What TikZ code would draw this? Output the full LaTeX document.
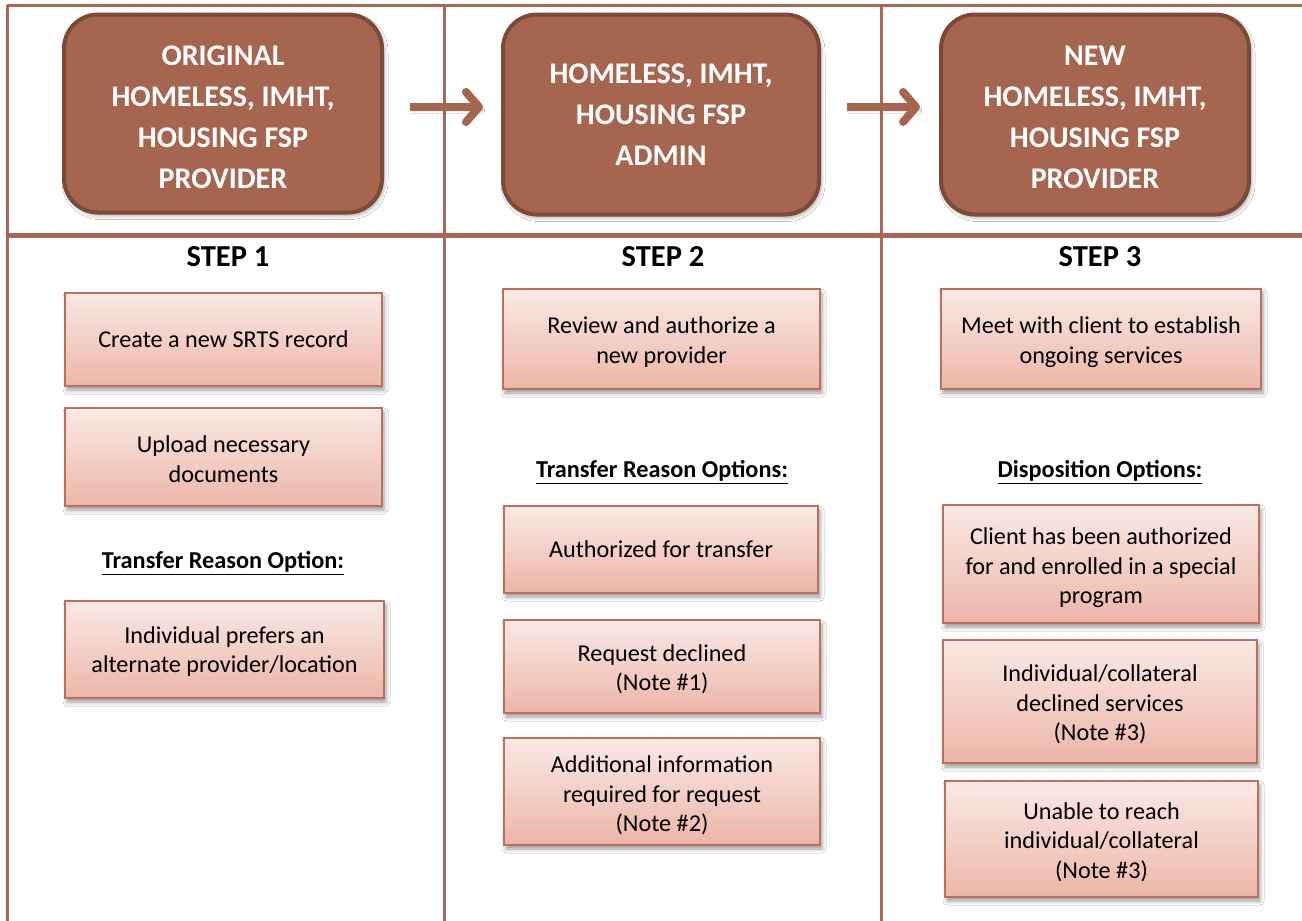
\documentclass[tikz,border=0pt]{standalone}
\usepackage{fontspec}
\setmainfont{Carlito}
\usetikzlibrary{arrows.meta,shadows.blur}
\definecolor{hdrfill}{RGB}{166,101,79}
\definecolor{hdrborder}{RGB}{123,74,56}
\definecolor{gridcol}{RGB}{168,104,85}
\definecolor{pinktop}{RGB}{250,233,229}
\definecolor{pinkbot}{RGB}{236,182,168}
\definecolor{pinkborder}{RGB}{186,112,92}
\tikzset{
  hdr/.style={rounded corners=34pt, fill=hdrfill, draw=hdrborder, line width=4pt,
    blur shadow={shadow xshift=2pt, shadow yshift=-3pt, shadow blur radius=4pt, shadow opacity=35}},
  hdrtext/.style={text=white, font=\bfseries\fontsize{30}{41}\selectfont, align=center},
  pbox/.style={draw=pinkborder, line width=1.6pt, top color=pinktop, bottom color=pinkbot,
    font=\fontsize{24.2}{29.5}\selectfont, align=center, inner sep=0pt,
    blur shadow={shadow xshift=2pt, shadow yshift=-4pt, shadow blur radius=4pt, shadow opacity=40}},
  ptext/.style={font=\fontsize{24.2}{29.5}\selectfont, align=center, inner sep=0pt},
  steplabel/.style={font=\bfseries\fontsize{30.5}{34}\selectfont},
  optlabel/.style={font=\bfseries\fontsize{24.3}{28}\selectfont},
  gridline/.style={draw=gridcol},
  flowarrow/.style={draw=hdrfill, line width=8pt, -{Straight Barb[round, length=13pt, width=30pt]},
    blur shadow={shadow xshift=1pt, shadow yshift=-3pt, shadow blur radius=3pt, shadow opacity=30}}
}
\begin{document}
\begin{tikzpicture}[x=1pt,y=-1pt]
\useasboundingbox (0,0) rectangle (1302,921);
\fill[white] (0,0) rectangle (1302,921);
% table grid
\draw[gridline, line width=3pt] (7,5) -- (1302,5);
\draw[gridline, line width=3pt] (7,5) -- (7,921);
\draw[gridline, line width=3pt] (444.5,5) -- (444.5,921);
\draw[gridline, line width=3pt] (881.5,5) -- (881.5,921);
\draw[gridline, line width=5pt] (7,235.5) -- (1302,235.5);
% header boxes
\node[hdr, minimum width=318pt, minimum height=198pt] (h1) at (223,113.5) {};
\node[hdrtext] (h1t) at ([yshift=-4pt]h1.center) {ORIGINAL\\HOMELESS, IMHT,\\HOUSING FSP\\PROVIDER};
\node[hdr, minimum width=316pt, minimum height=200pt] (h2) at (661,114.5) {};
\node[hdrtext] (h2t) at (h2.center) {HOMELESS, IMHT,\\HOUSING FSP\\ADMIN};
\node[hdr, minimum width=308pt, minimum height=200pt] (h3) at (1095,114.5) {};
\node[hdrtext] (h3t) at ([yshift=-3pt]h3.center) {NEW\\HOMELESS, IMHT,\\HOUSING FSP\\PROVIDER};
% arrows
\draw[flowarrow] ([xshift=26pt]h1.east |- 0,107) -- ([xshift=-18pt]h2.west |- 0,107);
\draw[flowarrow] ([xshift=26pt]h2.east |- 0,107) -- ([xshift=-19pt]h3.west |- 0,107);
% step labels
\node[steplabel] (s1) at (228,257) {STEP 1};
\node[steplabel] (s2) at (663,257) {STEP 2};
\node[steplabel] (s3) at (1100,257) {STEP 3};
% step 1
\node[pbox, minimum width=317pt, minimum height=93pt] (a1) at (223.5,339.5) {Create a new SRTS record};
\node[pbox, minimum width=317pt, minimum height=98pt] (a2) at (223.5,457) {};
\node[ptext] (a2t) at ([yshift=-2pt]a2.center) {Upload necessary\\documents};
\node[optlabel] (o1) at (223,563) {\underline{Transfer Reason Option:}};
\node[pbox, minimum width=319pt, minimum height=97pt] (a3) at (224.5,649.5) {};
\node[ptext] (a3t) at ([yshift=-2pt]a3.center) {Individual prefers an\\alternate provider/location};
% step 2
\node[pbox, minimum width=317pt, minimum height=100pt] (b1) at (661.5,339) {};
\node[ptext] (b1t) at ([yshift=-3pt]b1.center) {Review and authorize a\\new provider};
\node[optlabel] (o2) at (662,472) {\underline{Transfer Reason Options:}};
\node[pbox, minimum width=314pt, minimum height=87pt] (b2) at (661,549.5) {Authorized for transfer};
\node[pbox, minimum width=316pt, minimum height=93pt] (b3) at (662,666.5) {};
\node[ptext] (b3t) at ([yshift=-3pt]b3.center) {Request declined\\(Note \#1)};
\node[pbox, minimum width=316pt, minimum height=107pt] (b4) at (662,791.5) {};
\node[ptext] (b4t) at ([yshift=-4pt]b4.center) {Additional information\\required for request\\(Note \#2)};
% step 3
\node[pbox, minimum width=320pt, minimum height=100pt] (c1) at (1101,339) {};
\node[ptext] (c1t) at ([yshift=-3pt]c1.center) {Meet with client to establish\\ongoing services};
\node[optlabel] (o3) at (1100,472) {\underline{Disposition Options:}};
\node[pbox, minimum width=316pt, minimum height=118pt] (c2) at (1101,564) {};
\node[ptext] (c2t) at ([yshift=-4pt]c2.center) {Client has been authorized\\for and enrolled in a special\\program};
\node[pbox, minimum width=314pt, minimum height=123pt] (c3) at (1100,701.5) {};
\node[ptext] (c3t) at ([yshift=-3pt]c3.center) {Individual/collateral\\declined services\\(Note \#3)};
\node[pbox, minimum width=313pt, minimum height=116pt] (c4) at (1101.5,839) {};
\node[ptext] (c4t) at ([yshift=-3pt]c4.center) {Unable to reach\\individual/collateral\\(Note \#3)};
\end{tikzpicture}
\end{document}
